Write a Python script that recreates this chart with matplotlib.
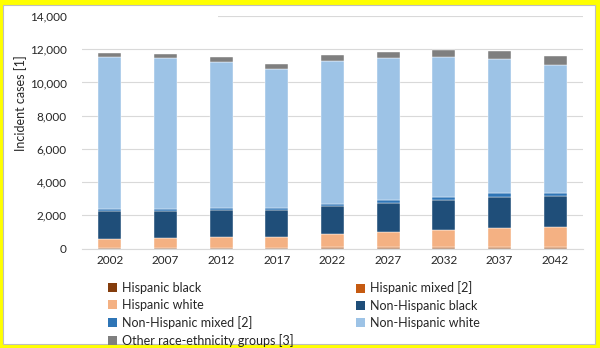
import matplotlib
matplotlib.use("Agg")
import matplotlib.pyplot as plt
from matplotlib.patches import Rectangle, Patch
import numpy as np

plt.rcParams['font.family'] = ['Lato', 'DejaVu Sans']

years = ["2002", "2007", "2012", "2017", "2022", "2027", "2032", "2037", "2042"]
hispanic_black = [20, 20, 20, 20, 25, 25, 30, 30, 35]
hispanic_mixed = [30, 30, 35, 35, 40, 45, 50, 55, 60]
hispanic_white = [495, 595, 630, 630, 780, 915, 1010, 1165, 1215]
nonhisp_black = [1710, 1610, 1630, 1630, 1690, 1750, 1810, 1850, 1835]
nonhisp_mixed = [140, 140, 140, 140, 140, 180, 220, 220, 220]
nonhisp_white = [9145, 9085, 8805, 8345, 8640, 8560, 8400, 8080, 7680]
other_groups = [220, 220, 260, 300, 320, 360, 440, 500, 560]

series = [
    ("Hispanic black", hispanic_black, "#843C0C"),
    ("Hispanic mixed [2]", hispanic_mixed, "#C55A11"),
    ("Hispanic white", hispanic_white, "#F4B183"),
    ("Non-Hispanic black", nonhisp_black, "#1F4E79"),
    ("Non-Hispanic mixed [2]", nonhisp_mixed, "#2E75B6"),
    ("Non-Hispanic white", nonhisp_white, "#9DC3E6"),
    ("Other race-ethnicity groups [3]", other_groups, "#7F7F7F"),
]

W, H = 600, 348
fig = plt.figure(figsize=(W / 100, H / 100), dpi=100)
fig.patch.set_facecolor("#FFFF00")

# inner white chart area with grey border
fig.patches.append(Rectangle((3 / W, 4 / H), 592 / W, 339 / H, transform=fig.transFigure,
                             facecolor="white", edgecolor="#BFBFBF", linewidth=0.8, zorder=-2))

ax = fig.add_axes([82 / W, 1 - 248.5 / H, (583 - 82) / W, (248.5 - 16) / H])
ax.set_zorder(1)
ax.set_facecolor("none")
x = np.arange(len(years))
bottom = np.zeros(len(years))
for name, vals, col in series:
    ax.bar(x, vals, bottom=bottom, width=0.41, color=col, edgecolor="white",
           linewidth=0.3, label=name, zorder=3)
    bottom += np.array(vals)

ax.set_xlim(-0.5, len(years) - 0.5)
ax.set_ylim(0, 14000)
ax.set_yticks(np.arange(0, 14001, 2000))
ax.set_yticklabels([f"{v:,}" for v in range(0, 14001, 2000)])
ax.set_xticks(x)
ax.set_xticklabels(years)
ax.grid(axis="y", color="#D9D9D9", linewidth=0.8, zorder=0)
ax.set_axisbelow(True)
for s in ["top", "right", "left"]:
    ax.spines[s].set_visible(False)
ax.spines["bottom"].set_color("#D9D9D9")
ax.spines["bottom"].set_linewidth(0.8)
ax.tick_params(axis="both", length=0, labelsize=8.5, colors="#262626")
ax.tick_params(axis="y", pad=11)
ax.tick_params(axis="x", pad=5)

# white patch covering the left part of the top gridline (title box area)
fig.patches.append(Rectangle((80 / W, 1 - 21 / H), 138 / W, 10 / H, transform=fig.transFigure,
                             facecolor="white", edgecolor="none", zorder=5))

fig.text(21 / W, 1 - 103 / H, "Incident cases [1]", rotation=90, ha="center", va="center",
         fontsize=9, color="#262626")

handles = [Patch(facecolor=c, edgecolor="none") for _, _, c in series]
labels = [n for n, _, _ in series]
col1 = [0, 2, 4, 6]
col2 = [1, 3, 5]
leg_kw = dict(frameon=False, fontsize=9, handlelength=0.75, handleheight=0.75,
              handletextpad=0.35, labelspacing=0.42, borderpad=0, borderaxespad=0,
              labelcolor="#262626")
leg1 = fig.legend([handles[i] for i in col1], [labels[i] for i in col1],
                  loc="upper left", bbox_to_anchor=(108 / W, 1 - 281.5 / H), **leg_kw)
leg2 = fig.legend([handles[i] for i in col2], [labels[i] for i in col2],
                  loc="upper left", bbox_to_anchor=(356 / W, 1 - 281.5 / H), **leg_kw)

fig.savefig("out.png", dpi=100, facecolor=fig.get_facecolor())
